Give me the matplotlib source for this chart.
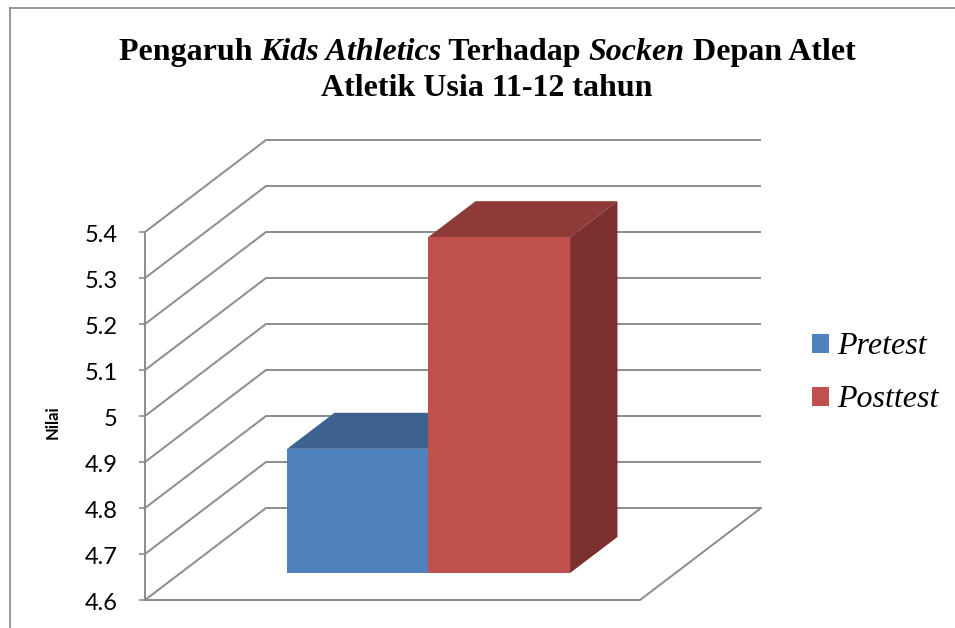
import matplotlib
matplotlib.use("Agg")
import matplotlib.pyplot as plt
from matplotlib.lines import Line2D
from matplotlib.patches import Polygon, Patch
from matplotlib.transforms import ScaledTranslation

series_names = ["Pretest", "Posttest"]
series_values = [4.87, 5.33]
series_colors = ["#4F81BD", "#C0504D"]
top_colors = ["#3E6290", "#8E3A38"]
side_colors = ["#365578", "#7C3130"]
y_ticks = [4.6, 4.7, 4.8, 4.9, 5.0, 5.1, 5.2, 5.3, 5.4]
y_tick_labels = ["4.6", "4.7", "4.8", "4.9", "5", "5.1", "5.2", "5.3", "5.4"]
y_label = "Nilai"
title_line1 = [("Pengaruh ", "normal"), ("Kids Athletics", "italic"), (" Terhadap ", "normal"),
               ("Socken", "italic"), (" Depan Atlet", "normal")]
title_line2 = [("Atletik Usia 11-12 tahun", "normal")]

W, H = 955, 628
GRID = "#8C8C8C"
fig = plt.figure(figsize=(W / 100, H / 100), dpi=100, facecolor="white")

# axes region: front-plane floor starts at (145, 600); scale 460 px per value unit, 495 px per x unit
ax = fig.add_axes([145 / W, 1 - 600 / H, 615 / W, 460 / H])
ax.set_xlim(0, 615 / 495)
ax.set_ylim(4.6, 5.6)
ax.patch.set_alpha(0)
DX, DY = 121 / 495, 92 / 460


def proj(x, v, d):
    return x + d * DX, v + d * DY


# walls and floor
for v in y_ticks:
    x0, y0 = proj(0, v, 0)
    x1, y1 = proj(0, v, 1)
    x2, y2 = proj(1, v, 1)
    ax.plot([x0, x1, x2 + (760 - 145 - 121 - 495) / 495], [y0, y1, y2], color=GRID, lw=1.4,
            clip_on=False, zorder=1, solid_joinstyle="miter")
fx, fy = zip(proj(0, 4.6, 0), proj(1, 4.6, 0), proj(1, 4.6, 1))
ax.plot(fx, fy, color=GRID, lw=1.4, clip_on=False, zorder=1)

# bars
D0, D1 = 0.2935, 0.685
edges = [0.2154, 0.5003, 0.787]
for i, (name, val) in enumerate(zip(series_names, series_values)):
    l, r = edges[i], edges[i + 1]
    x_front, base = proj(l, 4.6, D0)
    ax.bar(x_front, val - 4.6, width=r - l, bottom=base, align="edge", color=series_colors[i],
           linewidth=0, zorder=3 + i * 2, label=name)
    top = [proj(l, val, D0), proj(r, val, D0), proj(r, val, D1), proj(l, val, D1)]
    ax.add_patch(Polygon(top, closed=True, fc=top_colors[i], lw=0, zorder=2 + i * 2))
    side = [proj(r, 4.6, D0), proj(r, val, D0), proj(r, val, D1), proj(r, 4.6, D1)]
    ax.add_patch(Polygon(side, closed=True, fc=side_colors[i], lw=0, zorder=2 + i * 2))

# y axis
for s in ["top", "right", "bottom"]:
    ax.spines[s].set_visible(False)
ax.spines["left"].set_bounds(4.6, 5.4)
ax.spines["left"].set_color(GRID)
ax.spines["left"].set_linewidth(1.4)
ax.set_xticks([])
ax.set_yticks(y_ticks)
ax.set_yticklabels(y_tick_labels, fontfamily="Lato", fontsize=17, color="black")
ax.tick_params(axis="y", length=4, width=1.2, color=GRID, pad=15.5)
shift = ScaledTranslation(0, -1.5 / 100, fig.dpi_scale_trans)
for lab in ax.get_yticklabels():
    lab.set_transform(lab.get_transform() + shift)
fig.text(53 / W, 1 - 422 / H, y_label, rotation=90, ha="center", va="center",
         fontfamily="Lato", fontweight="bold", fontsize=12)

# legend
handles = [Patch(fc=c, lw=0) for c in series_colors]
leg = fig.legend(handles, series_names, loc="upper left", bbox_to_anchor=(812 / W, 1 - 332.5 / H),
                 bbox_transform=fig.transFigure, frameon=False, borderpad=0, borderaxespad=0,
                 handlelength=0.53, handleheight=0.53, handletextpad=0.25, labelspacing=0.75,
                 prop={"family": "Liberation Serif", "style": "italic", "size": 23})

# outer frame
for xs, ys in [((9.5, 9.5), (7.5, 628)), ((9.5, 955), (7.5, 7.5))]:
    fig.add_artist(Line2D([x / W for x in xs], [1 - y / H for y in ys], color="#8F8F8F", lw=1.3,
                          transform=fig.transFigure))

# title, built from roman and italic pieces
renderer = fig.canvas.get_renderer()
def line(parts, cx, baseline, size):
    arts = [fig.text(0, 1 - baseline / H, t, fontfamily="Liberation Serif", fontweight="bold", fontstyle=st,
                     fontsize=size, va="baseline", ha="left") for t, st in parts]
    widths = []
    for a, (t, st) in zip(arts, parts):
        w_px, _, _ = renderer.get_text_width_height_descent(t, a.get_fontproperties(), False)
        widths.append(w_px)
    x = cx - sum(widths) / 2
    for a, w in zip(arts, widths):
        a.set_x(x / W)
        x += w

line(title_line1, 487, 60, 23)
line(title_line2, 487, 96, 23)

fig.savefig("out.png", dpi=100, facecolor="white")
